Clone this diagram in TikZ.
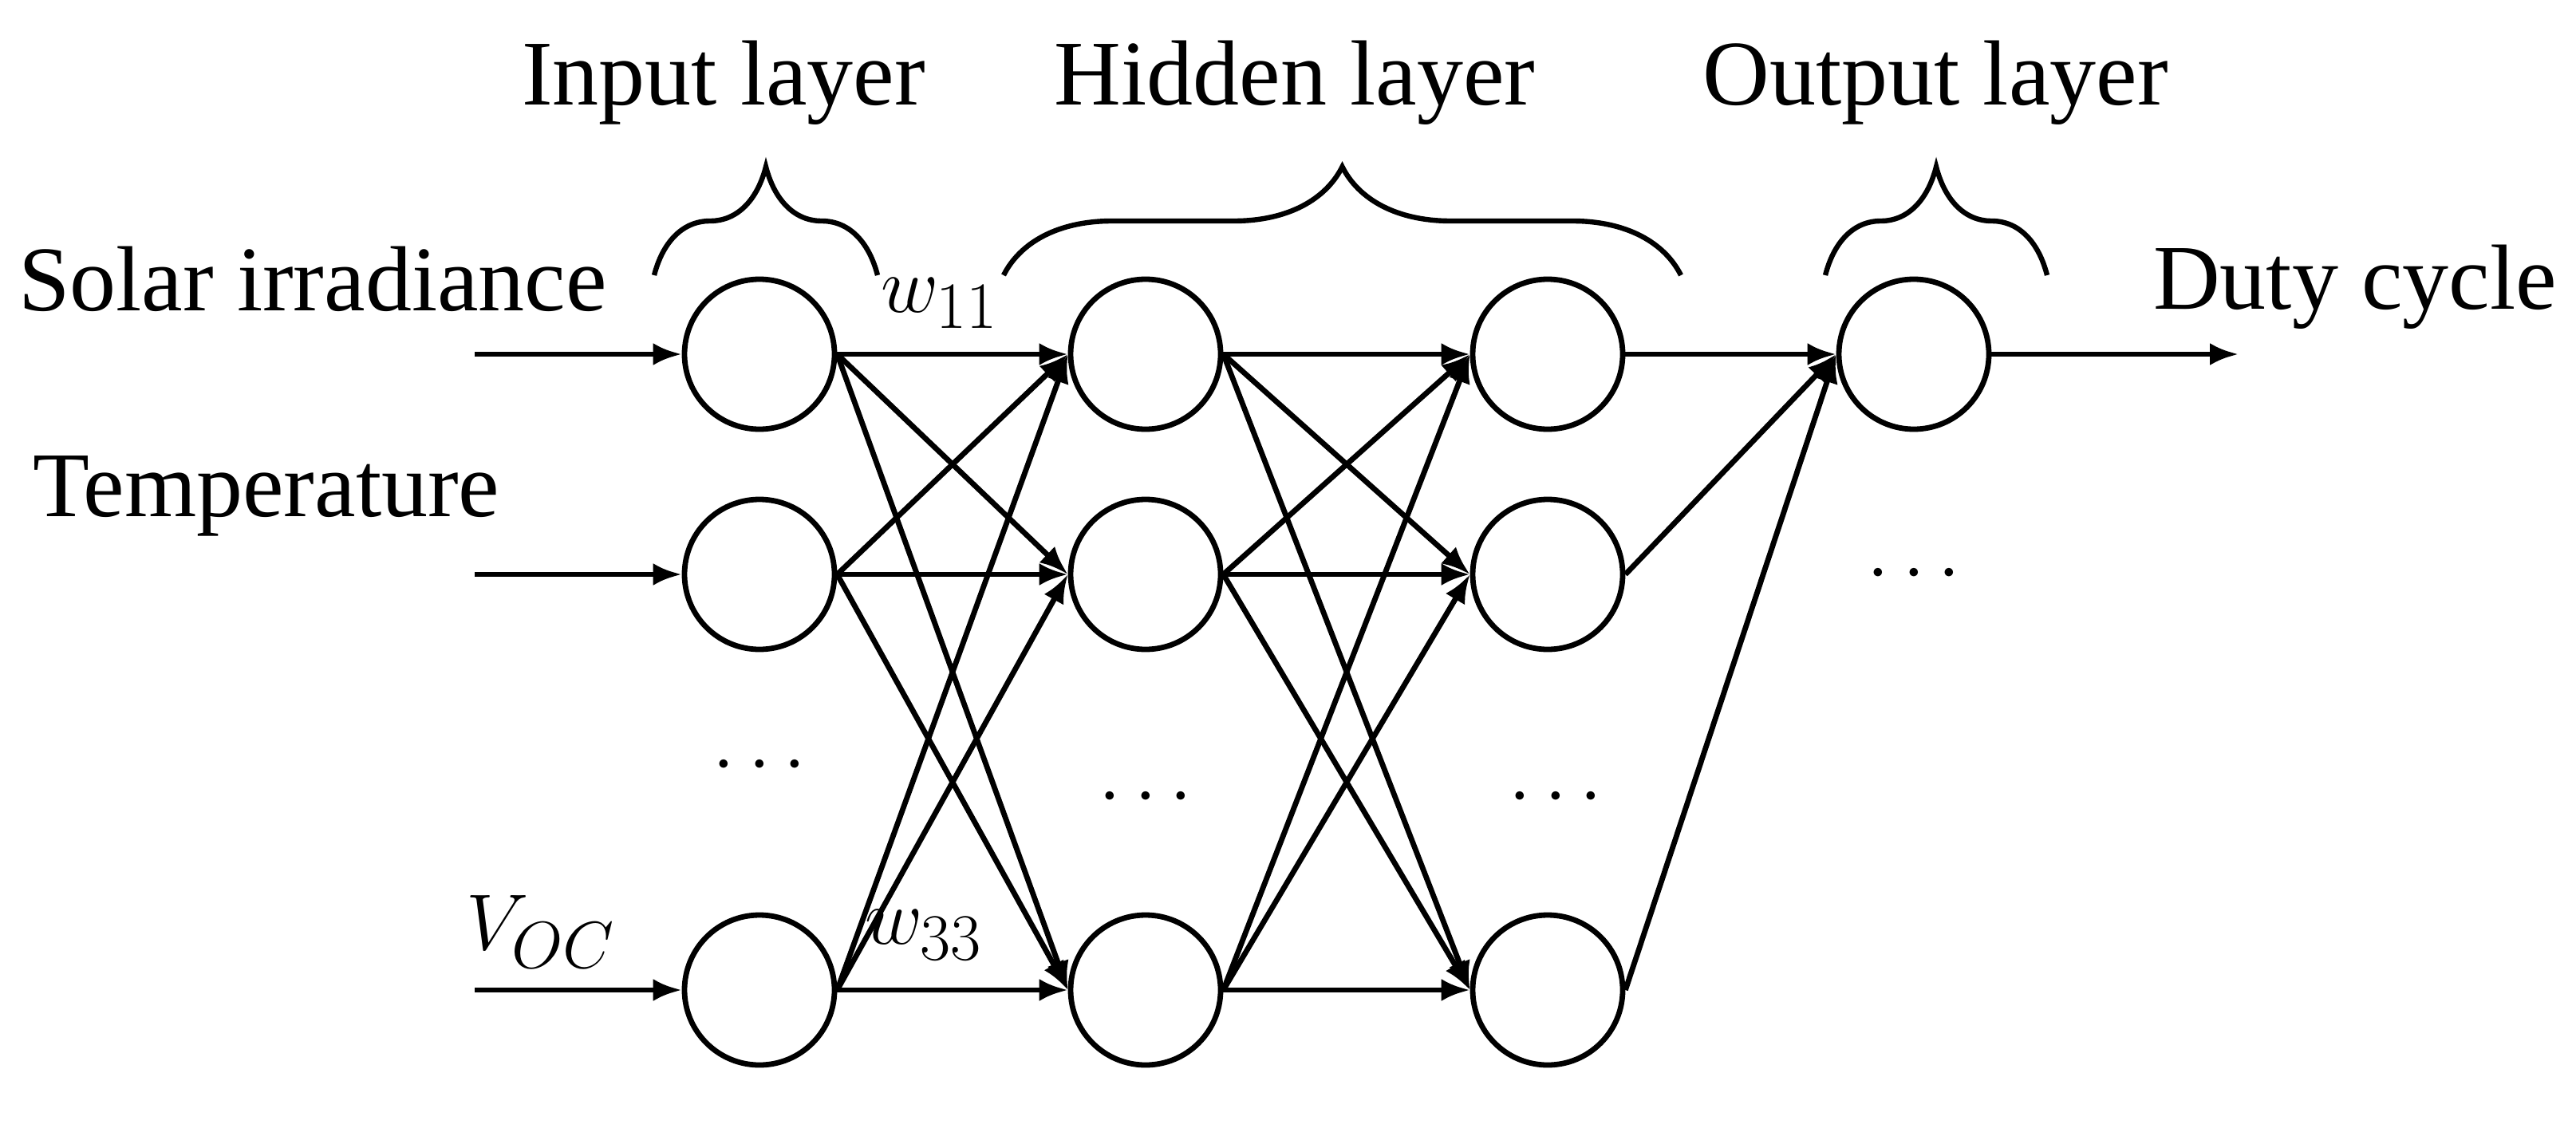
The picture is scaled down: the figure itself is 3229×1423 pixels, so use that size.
\documentclass[tikz,border=0pt]{standalone}
\usepackage{fontspec}
\setmainfont{Liberation Serif}
\usetikzlibrary{arrows.meta,decorations.pathreplacing,shapes.geometric}
\begin{document}
\begin{tikzpicture}[x=0.25pt,y=-0.25pt,
  neu/.style={circle,draw,line width=1.7pt,minimum size=47pt,inner sep=0pt},
  con/.style={line width=1.7pt,-{Latex[length=9pt,width=7pt]}},
  lab/.style={font=\fontsize{29}{32}\selectfont},
  br/.style={line width=1.6pt,decorate,decoration={brace,amplitude=34pt,aspect=0.5}}]
\useasboundingbox (0,0) rectangle (3229,1423);
\foreach \n/\x in {i/952,a/1436,b/1940}{
  \node[neu] (\n1) at (\x,444) {};
  \node[neu] (\n2) at (\x,720) {};
  \node[neu] (\n3) at (\x,1241) {};
}
\node[neu] (o1) at (2399,444) {};
\foreach \s in {1,2,3}{\foreach \t in {1,2,3}{
  \draw[con] (i\s.east) -- (a\t.west);
  \draw[con] (a\s.east) -- (b\t.west);}
  \draw[con] (b\s.east) -- (o1.west);}
\coordinate (s1) at (595,444); \coordinate (s2) at (595,720); \coordinate (s3) at (595,1241);
\coordinate (d) at (2806,444);
\foreach \k in {1,2,3}{\draw[con] (s\k) -- (i\k.west);}
\draw[con] (o1.east) -- (d);
\node[lab] (t1) at (392,350) {Solar irradiance};
\node[lab] (t2) at (334,622) {Temperature};
\node[lab] (t3) at (678,1168) {$V_{OC}$};
\node[lab] (t4) at (1178,380) {$w_{11}$};
\node[lab] (t5) at (1158,1172) {$w_{33}$};
\node[lab] (t6) at (2952,360) {Duty cycle};
\node[lab] (l1) at (907,104) {Input layer};
\node[lab] (l2) at (1623,104) {Hidden layer};
\node[lab] (l3) at (2426,104) {Output layer};
\foreach \x/\y/\n in {952/960/p1,1436/1000/p2,1950/1000/p3,2399/720/p4}{\node[lab] (\n) at (\x,\y) {$\cdots$};}
\draw[br] (820,345) -- (1100,345);
\draw[br] (1258,345) -- (2107,345);
\draw[br] (2288,345) -- (2566,345);
\end{tikzpicture}
\end{document}
